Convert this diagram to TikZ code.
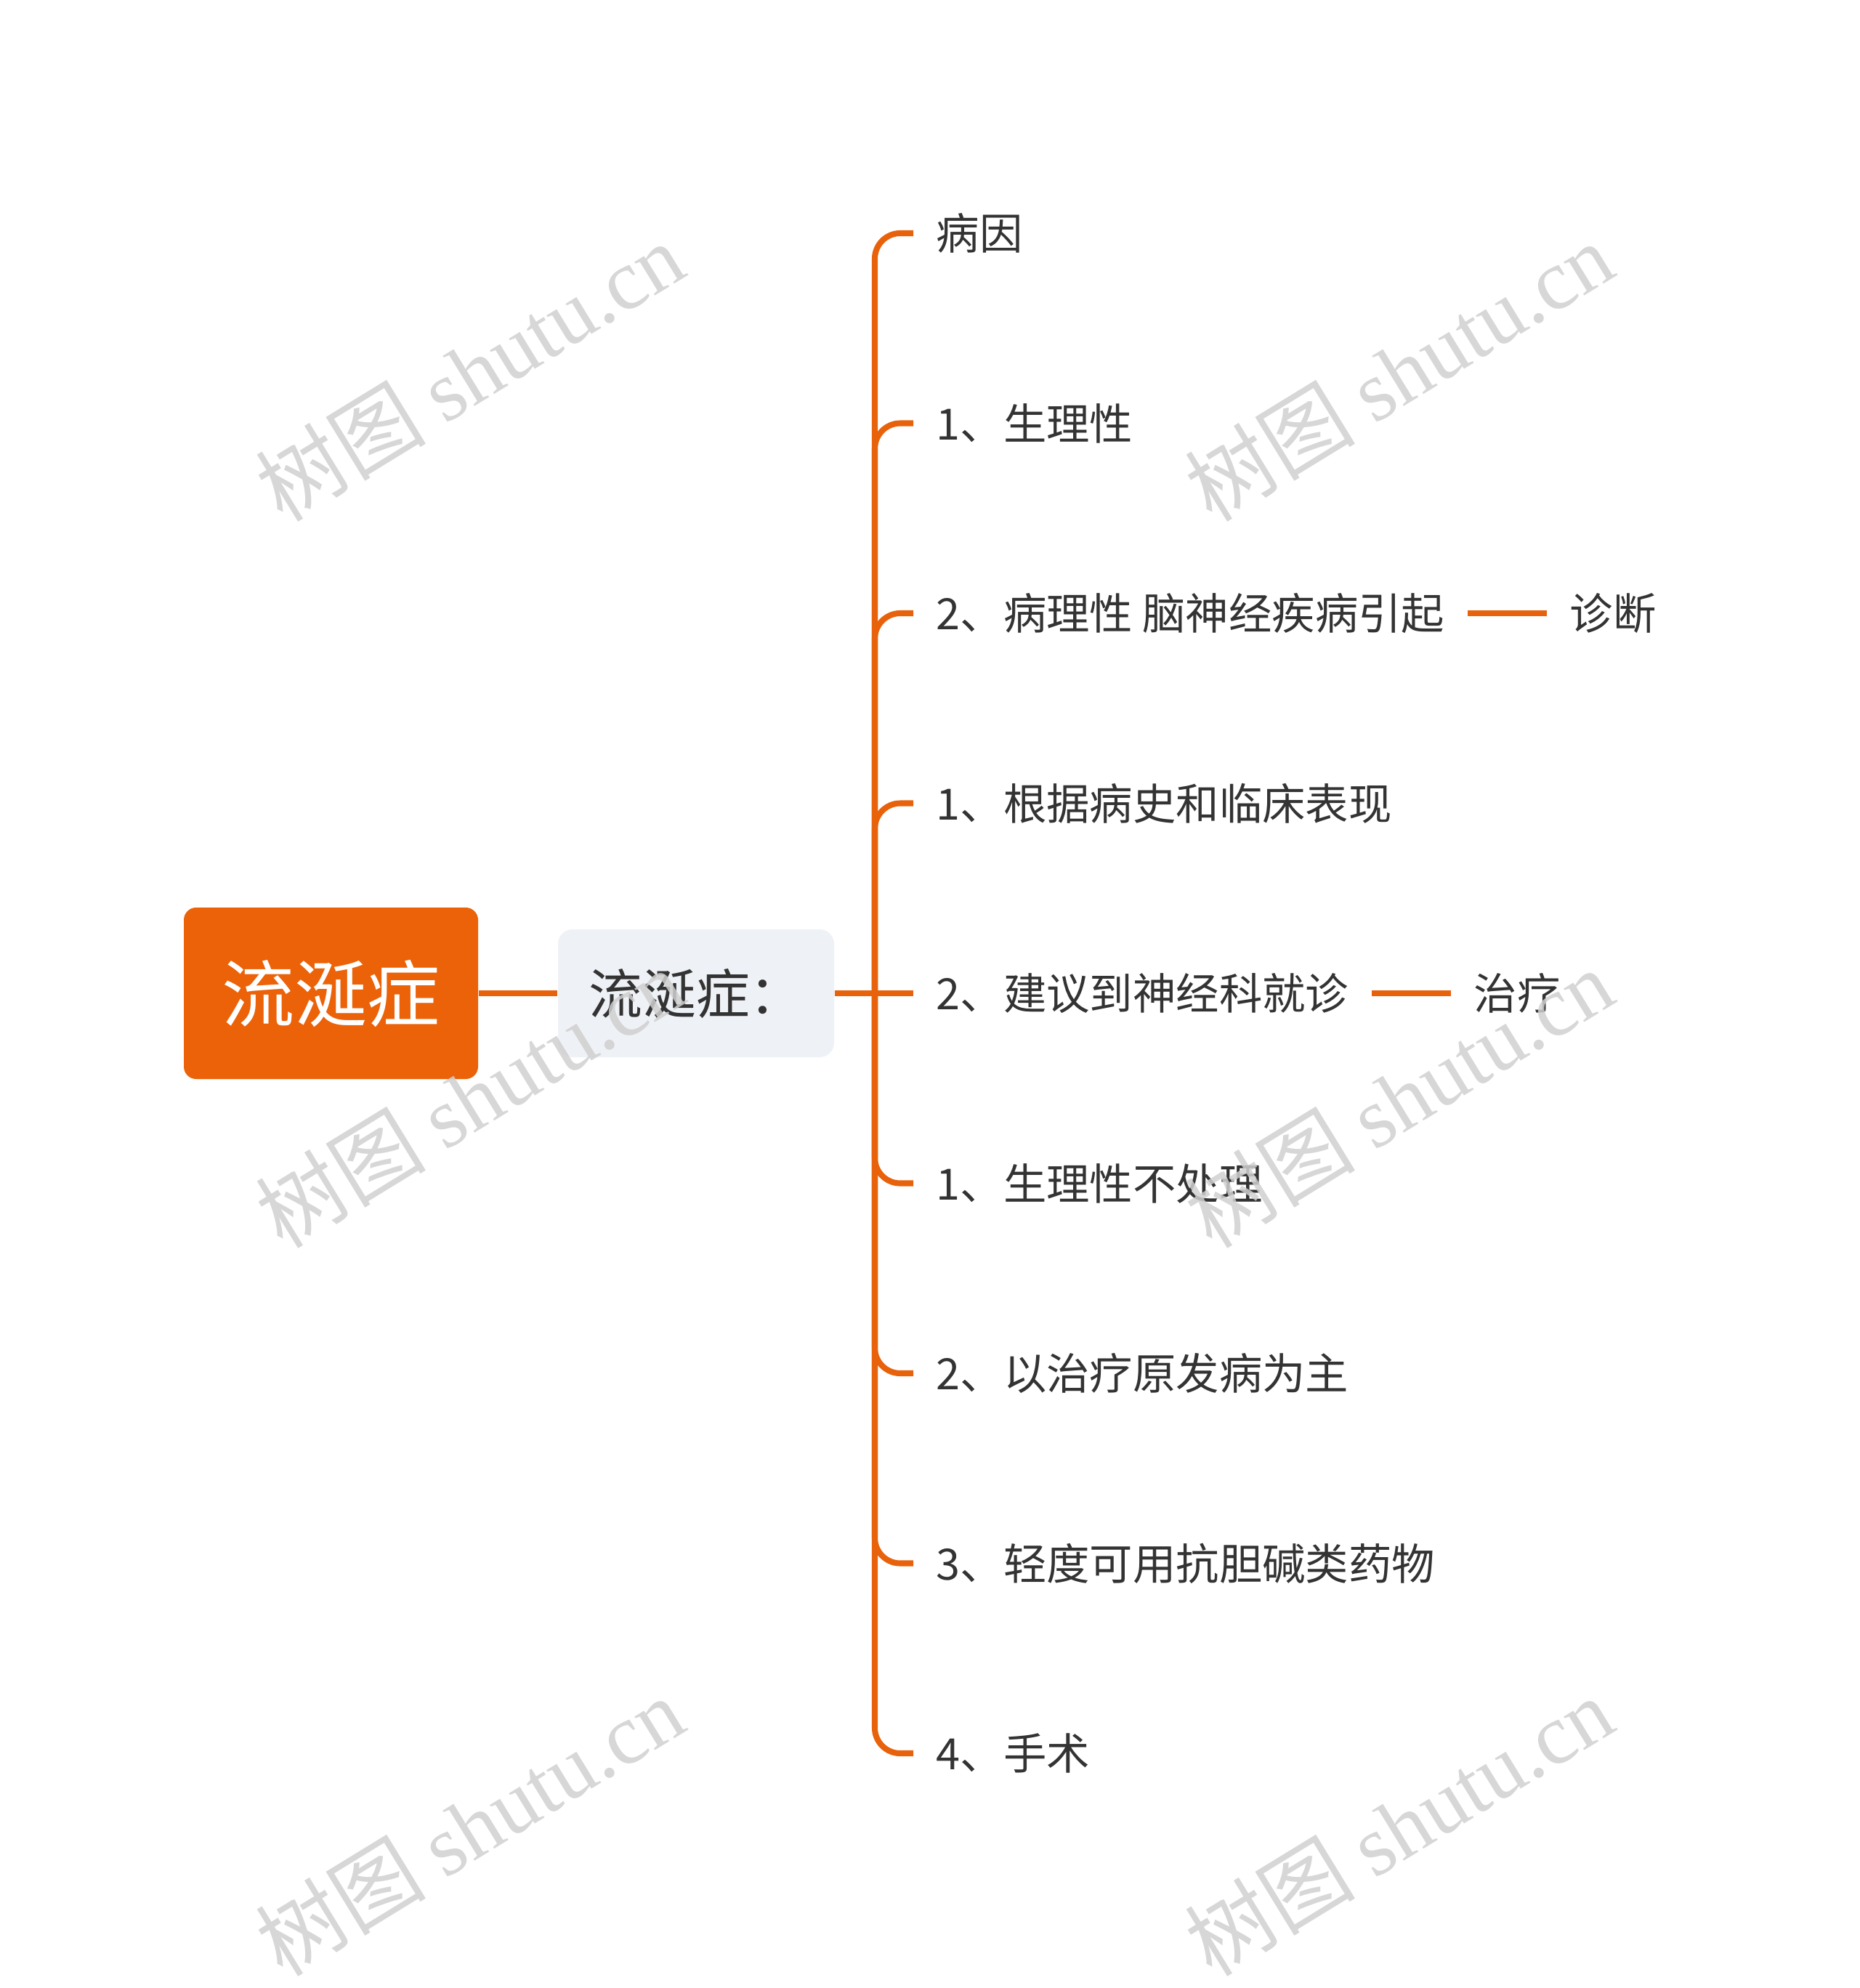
\documentclass[tikz,border=0pt]{standalone}
\usepackage{fontspec}
\setmainfont{Noto Sans CJK SC}
\newfontfamily\wmlatin{Liberation Serif}
\usetikzlibrary{positioning}

\definecolor{rootorange}{RGB}{235,98,8}
\definecolor{branchorange}{RGB}{232,98,12}
\definecolor{subgrey}{RGB}{238,241,245}
\definecolor{textdark}{RGB}{51,51,51}
\definecolor{wmgrey}{RGB}{208,208,208}

\begin{document}
\begin{tikzpicture}[
    root/.style={fill=rootorange, rounded corners=0.17cm, minimum width=4.05cm, minimum height=2.36cm, text=white, font=\fontsize{28.5}{30}\selectfont},
    sub/.style={fill=subgrey, rounded corners=0.2cm, minimum width=3.8cm, minimum height=1.76cm, text=textdark, font=\fontsize{21}{24}\selectfont},
    leaf/.style={anchor=west, inner xsep=0.31cm, inner ysep=0pt, text height=0.45cm, text depth=0pt, text=textdark, font=\fontsize{16.9}{20}\selectfont},
    branch/.style={draw=branchorange, line width=2.3pt},
    wm/.style={text=wmgrey, opacity=0.85, rotate=31.5, inner sep=0pt, font=\fontsize{33.5}{36}\selectfont}
]
\useasboundingbox (0,0) rectangle (25.6,-27.36);

% ====================
% Nodi Principali
% ====================
\node[root] (root) at (4.555, -13.67) {流涎症};
\node[sub] (sub) at (9.58, -13.67) {流涎症：};
\coordinate (trunk) at (12.04, -13.67);

% Figli
\node[leaf] (c1) at (12.57, -3.21) {病因};
\node[leaf] (c2) at (12.57, -5.825) {1、生理性};
\node[leaf] (c3) at (12.57, -8.44) {2、病理性 脑神经疾病引起};
\node[leaf] (c4) at (12.57, -11.055) {1、根据病史和临床表现};
\node[leaf] (c5) at (12.57, -13.67) {2、建议到神经科就诊};
\node[leaf] (c6) at (12.57, -16.285) {1、生理性不处理};
\node[leaf] (c7) at (12.57, -18.9) {2、以治疗原发病为主};
\node[leaf] (c8) at (12.57, -21.515) {3、轻度可用抗胆碱类药物};
\node[leaf] (c9) at (12.57, -24.13) {4、手术};

% Etichette a destra
\node[leaf, right=1.09cm of c3] (d1) {诊断};
\node[leaf, right=1.09cm of c5] (d2) {治疗};

% ====================
% Collegamenti
% ====================
\draw[branch] (root.east) -- (sub.west);
\draw[branch] (sub.east) -- (c5.west);

\draw[branch, rounded corners=0.35cm] (trunk) |- (c1.west);
\draw[branch, rounded corners=0.35cm] (trunk) |- (c2.west);
\draw[branch, rounded corners=0.35cm] (trunk) |- (c3.west);
\draw[branch, rounded corners=0.35cm] (trunk) |- (c4.west);
\draw[branch, rounded corners=0.35cm] (trunk) |- (c6.west);
\draw[branch, rounded corners=0.35cm] (trunk) |- (c7.west);
\draw[branch, rounded corners=0.35cm] (trunk) |- (c8.west);
\draw[branch, rounded corners=0.35cm] (trunk) |- (c9.west);

\draw[branch] (c3.east) -- (d1.west);
\draw[branch] (c5.east) -- (d2.west);

% ====================
% Filigrana
% ====================
\node[wm] (wm1) at (6.46, -5.11) {树图 {\wmlatin shutu.cn}};
\node[wm] (wm2) at (19.25, -5.11) {树图 {\wmlatin shutu.cn}};
\node[wm] (wm3) at (6.46, -15.11) {树图 {\wmlatin shutu.cn}};
\node[wm] (wm4) at (19.25, -15.11) {树图 {\wmlatin shutu.cn}};
\node[wm] (wm5) at (6.46, -25.13) {树图 {\wmlatin shutu.cn}};
\node[wm] (wm6) at (19.25, -25.13) {树图 {\wmlatin shutu.cn}};

\end{tikzpicture}
\end{document}
